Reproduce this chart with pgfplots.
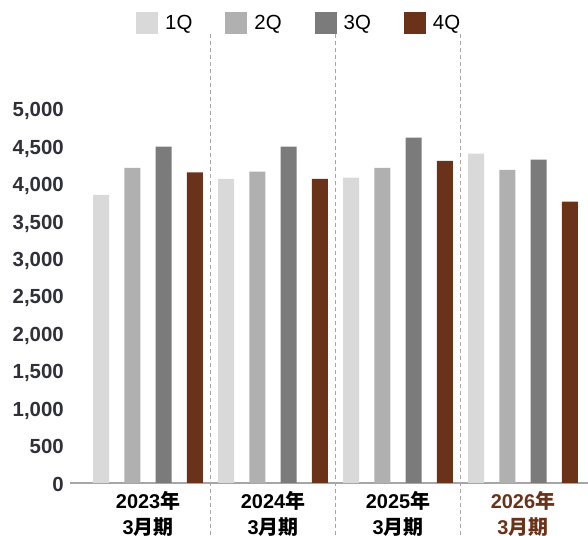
\documentclass[border=0pt]{standalone}
\usepackage{pgfplots}
\pgfplotsset{compat=1.18}
\usepackage{fontspec}
\setmainfont{Liberation Sans}
\newfontfamily\cjk{Noto Sans CJK JP}
\definecolor{qone}{HTML}{D9D9D9}
\definecolor{qtwo}{HTML}{B0B0B0}
\definecolor{qthree}{HTML}{7B7B7B}
\definecolor{qfour}{HTML}{6B321A}
\definecolor{ticktext}{HTML}{30303A}
\definecolor{rulegray}{HTML}{A6A6A6}
\begin{document}
\begin{tikzpicture}
\begin{axis}[
  scale only axis,
  width=518bp, height=449bp,
  xmin=-1, xmax=15.584,
  ymin=0, ymax=6000,
  clip=false,
  axis x line*=bottom,
  axis y line*=left,
  y axis line style={draw=none},
  x axis line style={draw=rulegray, line width=1.3bp},
  major tick length=0pt,
  ytick={0,500,...,5000},
  /pgf/number format/assume math mode=true,
  /pgf/number format/1000 sep={,},
  yticklabel style={font=\fontsize{20.5}{24}\selectfont\bfseries, text=ticktext, anchor=east,
    inner sep=0pt, text height=0.72em, text depth=0pt, xshift=-6bp, yshift=-4.5bp},
  xtick={1.5,5.5,9.5,13.5},
  xticklabels={
    2023{\cjk 年}\\3{\cjk 月期},
    2024{\cjk 年}\\3{\cjk 月期},
    2025{\cjk 年}\\3{\cjk 月期},
    \textcolor{qfour}{2026{\cjk 年}}\\\textcolor{qfour}{3{\cjk 月期}}},
  xticklabel style={font=\fontsize{20}{26}\selectfont\bfseries, align=center, anchor=north, inner sep=0pt, yshift=-8bp},
  legend columns=4,
  legend style={draw=none, fill=none, at={(rel axis cs:0.1216,1.0245)}, anchor=west,
    nodes={inner sep=0pt, font=\fontsize{20.5}{22}\selectfont},
    /tikz/every odd column/.append style={column sep=7bp},
    /tikz/every even column/.append style={column sep=33bp}},
  legend image code/.code={\fill[#1] (0bp,-11bp) rectangle (22bp,11bp);},
]
% quarterly bars, four per fiscal year
\addplot[ybar, bar shift=0pt, bar width=0.512, fill=qone, draw=none]
  coordinates {(0,3850) (4,4065) (8,4080) (12,4400)};
\addlegendentry{1Q}
\addplot[ybar, bar shift=0pt, bar width=0.512, fill=qtwo, draw=none]
  coordinates {(1,4210) (5,4160) (9,4210) (13,4185)};
\addlegendentry{2Q}
\addplot[ybar, bar shift=0pt, bar width=0.512, fill=qthree, draw=none]
  coordinates {(2,4495) (6,4495) (10,4615) (14,4320)};
\addlegendentry{3Q}
\addplot[ybar, bar shift=0pt, bar width=0.512, fill=qfour, draw=none]
  coordinates {(3,4150) (7,4065) (11,4305) (15,3760)};
\addlegendentry{4Q}
% separators between fiscal years
\foreach \s in {3.5,7.5,11.5}{
  \edef\tmp{\noexpand\draw[rulegray, line width=1.2bp, dash pattern=on 4bp off 3bp]
    (axis cs:\s,6000) -- (axis cs:\s,-720);}\tmp
}
\coordinate (sw) at (rel axis cs:0,0);
\coordinate (ne) at (rel axis cs:1,1);
\end{axis}
\pgfresetboundingbox
\path ([shift={(-70bp,-53bp)}]sw) rectangle ([shift={(0bp,34bp)}]ne);
\end{tikzpicture}
\end{document}
